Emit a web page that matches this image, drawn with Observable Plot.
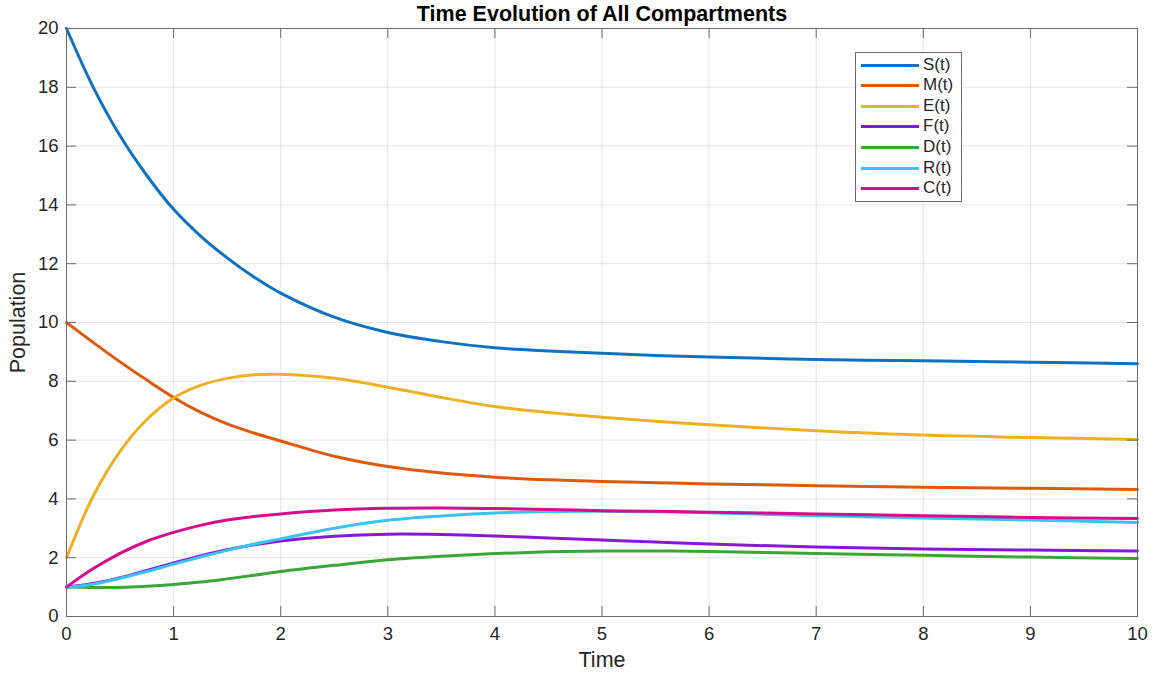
<!DOCTYPE html>
<html>
<head>
<meta charset="utf-8">
<script src="https://cdn.jsdelivr.net/npm/d3@7"></script>
<script src="https://cdn.jsdelivr.net/npm/@observablehq/plot@0.6"></script>
<style>
  body { margin: 0; background: #fff; font-family: "Liberation Sans", Arial, Helvetica, sans-serif; }
  #wrap { position: relative; width: 1158px; height: 673px; }
  #legend { position: absolute; left: 855px; top: 52px; width: 107px; height: 150px;
            border: 1px solid #6a6a6a; background: #fff; box-sizing: border-box; }
  .row { position: absolute; left: 0; height: 20px; }
  .sw { position: absolute; left: 5px; width: 58px; height: 3px; }
  .lb { position: absolute; left: 67px; font-size: 17px; line-height: 20px; color: #262626; white-space: nowrap; }
</style>
</head>
<body>
<div id="wrap"></div>
<script>
const times = [0, 0.25, 0.5, 0.75, 1, 1.25, 1.5, 1.75, 2, 2.5, 3, 3.5, 4, 4.5, 5, 5.5, 6, 7, 8, 9, 10];
const S = [20, 18.0, 16.35, 15.0, 13.85, 12.95, 12.2, 11.55, 11.0, 10.18, 9.66, 9.35, 9.14, 9.03, 8.95, 8.88, 8.83, 8.74, 8.70, 8.65, 8.6];
const M = [10, 9.32, 8.66, 8.04, 7.45, 6.95, 6.55, 6.24, 5.97, 5.45, 5.1, 4.88, 4.74, 4.65, 4.59, 4.55, 4.51, 4.45, 4.40, 4.36, 4.32];
const E = [2, 4.1, 5.62, 6.7, 7.43, 7.86, 8.1, 8.22, 8.24, 8.1, 7.8, 7.45, 7.14, 6.94, 6.78, 6.64, 6.52, 6.32, 6.17, 6.09, 6.02];
const F = [1, 1.12, 1.32, 1.57, 1.82, 2.06, 2.27, 2.44, 2.57, 2.73, 2.8, 2.79, 2.74, 2.67, 2.6, 2.53, 2.47, 2.36, 2.3, 2.26, 2.23];
const D = [1, 0.99, 0.99, 1.03, 1.09, 1.17, 1.28, 1.4, 1.53, 1.74, 1.93, 2.05, 2.14, 2.2, 2.23, 2.23, 2.21, 2.14, 2.08, 2.02, 1.97];
const R = [1, 1.1, 1.3, 1.53, 1.78, 2.02, 2.25, 2.46, 2.64, 3.0, 3.27, 3.42, 3.52, 3.57, 3.58, 3.56, 3.53, 3.43, 3.35, 3.28, 3.2];
const C = [1, 1.63, 2.15, 2.56, 2.86, 3.1, 3.28, 3.4, 3.49, 3.62, 3.68, 3.69, 3.67, 3.64, 3.6, 3.58, 3.55, 3.49, 3.43, 3.37, 3.33];

const seriesNames = ["S(t)", "M(t)", "E(t)", "F(t)", "D(t)", "R(t)", "C(t)"];
const seriesValues = [S, M, E, F, D, R, C];
const seriesColors = ["#0f72c0", "#dd5a0c", "#eeb023", "#8a17d6", "#3aa638", "#38c3f0", "#d60c8e"];
const xTicks = [0, 1, 2, 3, 4, 5, 6, 7, 8, 9, 10];
const yTicks = [0, 2, 4, 6, 8, 10, 12, 14, 16, 18, 20];
const titleText = "Time Evolution of All Compartments";
const xLabel = "Time";
const yLabel = "Population";

const rows = [];
seriesNames.forEach((name, i) => {
  times.forEach((t, j) => rows.push({series: name, t, v: seriesValues[i][j]}));
});

const W = 1158, H = 673, mL = 66, mR = 21, mT = 28, mB = 57;
const fw = W - mL - mR, fh = H - mT - mB;
const tick = 10;
const txt = "#262626";
const axisCol = "#6a6a6a";

const chart = Plot.plot({
  width: W, height: H,
  marginLeft: mL, marginRight: mR, marginTop: mT, marginBottom: mB,
  style: {fontFamily: '"Liberation Sans", Arial, Helvetica, sans-serif', background: "#fff"},
  x: {domain: [0, 10]},
  y: {domain: [0, 20]},
  color: {domain: seriesNames, range: seriesColors},
  marks: [
    Plot.gridX(xTicks, {stroke: "#262626", strokeOpacity: 0.12}),
    Plot.gridY(yTicks, {stroke: "#262626", strokeOpacity: 0.12}),
    Plot.line(rows, {x: "t", y: "v", z: "series", stroke: "series", strokeWidth: 3, curve: "catmull-rom"}),
    Plot.frame({stroke: axisCol, strokeWidth: 1}),
    // inward ticks on all four sides
    Plot.ruleX(xTicks, {x: d => d, insetTop: fh - tick, stroke: axisCol}),
    Plot.ruleX(xTicks, {x: d => d, insetBottom: fh - tick, stroke: axisCol}),
    Plot.ruleY(yTicks, {y: d => d, insetRight: fw - tick, stroke: axisCol}),
    Plot.ruleY(yTicks, {y: d => d, insetLeft: fw - tick, stroke: axisCol}),
    Plot.axisX(xTicks, {tickSize: 0, tickPadding: 10, fontSize: 18.5, label: null, color: txt}),
    Plot.axisY(yTicks, {tickSize: 0, tickPadding: 8, fontSize: 18.5, label: null, color: txt}),
    Plot.text([xLabel], {frameAnchor: "bottom", dy: 44, fontSize: 21.5, fill: txt, lineAnchor: "middle", textAnchor: "middle"}),
    Plot.text([yLabel], {frameAnchor: "left", dx: -48, rotate: -90, fontSize: 21.5, fill: txt, lineAnchor: "middle", textAnchor: "middle"}),
    Plot.text([titleText], {frameAnchor: "top", dy: -14, fontSize: 21.5, fontWeight: "bold", fill: "#000", lineAnchor: "middle", textAnchor: "middle"})
  ]
});

const wrap = document.getElementById("wrap");
wrap.appendChild(chart);

const legend = document.createElement("div");
legend.id = "legend";
seriesNames.forEach((name, i) => {
  const row = document.createElement("div");
  row.className = "row";
  row.style.top = (1.5 + i * 20.6) + "px";
  const sw = document.createElement("span");
  sw.className = "sw";
  sw.style.top = "9px";
  sw.style.background = seriesColors[i];
  const lb = document.createElement("span");
  lb.className = "lb";
  lb.style.top = "0px";
  lb.textContent = name;
  row.appendChild(sw);
  row.appendChild(lb);
  legend.appendChild(row);
});
wrap.appendChild(legend);
</script>
</body>
</html>
